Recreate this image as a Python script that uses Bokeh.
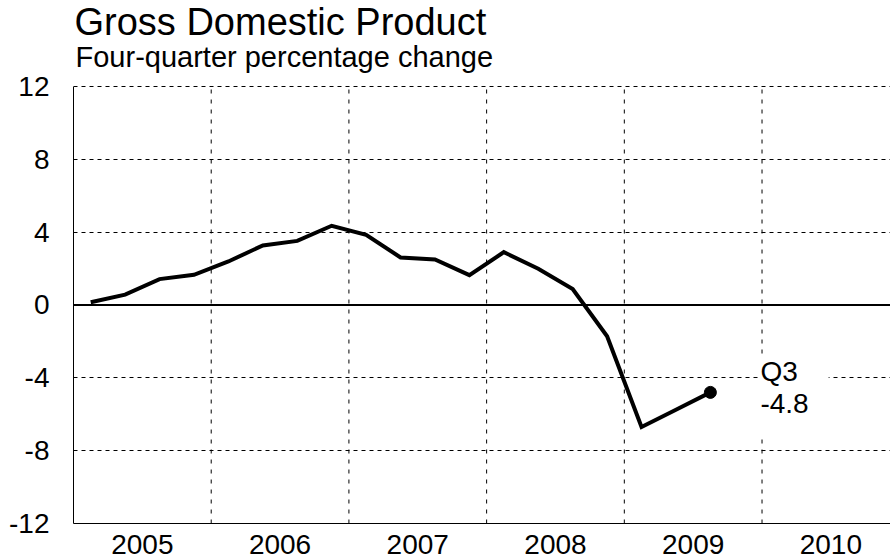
from bokeh.plotting import figure
from bokeh.models import (Range1d, FixedTicker, Span, Label, ColumnDataSource)
from bokeh.embed import file_html
from bokeh.resources import INLINE

# ---- data ----
quarters = ["2005Q1", "2005Q2", "2005Q3", "2005Q4",
            "2006Q1", "2006Q2", "2006Q3", "2006Q4",
            "2007Q1", "2007Q2", "2007Q3", "2007Q4",
            "2008Q1", "2008Q2", "2008Q3", "2008Q4",
            "2009Q1", "2009Q2", "2009Q3"]
gdp_change = [0.15, 0.57, 1.42, 1.66,
              2.39, 3.27, 3.52, 4.35,
              3.85, 2.61, 2.50, 1.64,
              2.90, 1.99, 0.88, -1.72,
              -6.70, -5.75, -4.8]
years = [2005, 2006, 2007, 2008, 2009, 2010]
y_ticks = [-12, -8, -4, 0, 4, 8, 12]
title_text = "Gross Domestic Product"
subtitle_text = "Four-quarter percentage change"
last_label = "Q3"

FONT = "Liberation Sans"
Y_HEADROOM = 4.72   # extra range above the top tick, room for the titles
X_END_PAD = 0.933   # visible part of the year after the last label

# quarter position: middle of each quarter
xs = [int(q[:4]) + (int(q[-1]) - 0.5) / 4 for q in quarters]
src = ColumnDataSource(dict(x=xs, y=gdp_change))

p = figure(width=890, height=560, output_backend="svg", toolbar_location=None,
           x_range=Range1d(years[0], years[-1] + X_END_PAD),
           y_range=Range1d(y_ticks[0], y_ticks[-1] + Y_HEADROOM),
           min_border_left=73, min_border_right=0, min_border_top=0,
           min_border_bottom=37)
p.outline_line_color = None
p.background_fill_color = "white"
p.border_fill_color = "white"
p.xgrid.visible = False

# axes
p.xaxis.ticker = FixedTicker(ticks=[y + 0.5 for y in years])
p.xaxis.major_label_overrides = {y + 0.5: str(y) for y in years}
p.yaxis.ticker = FixedTicker(ticks=y_ticks)
p.yaxis.major_label_overrides = {t: str(t) for t in y_ticks}
p.yaxis.bounds = (y_ticks[0], y_ticks[-1])
for ax in (p.xaxis[0], p.yaxis[0]):
    ax.major_tick_line_color = None
    ax.minor_tick_line_color = None
    ax.axis_line_color = "black"
    ax.axis_line_width = 1
    ax.major_label_text_font = FONT
    ax.major_label_text_color = "black"
    ax.major_label_text_font_size = "28px"
p.xaxis.major_label_standoff = 5
p.yaxis.major_label_standoff = 18

# horizontal grid
p.ygrid.ticker = FixedTicker(ticks=[t for t in y_ticks if t not in (0, y_ticks[0])])
p.ygrid.grid_line_color = "black"
p.ygrid.grid_line_dash = "4 4"
p.ygrid.grid_line_width = 1

# vertical year separators (only between -12 and 12)
seps = years[1:]
p.segment(x0=seps, y0=[y_ticks[0]] * len(seps), x1=seps, y1=[y_ticks[-1]] * len(seps),
          line_color="black", line_width=1, line_dash="4 6")

p.add_layout(Span(location=0, dimension="width", line_color="black", line_width=2))

p.line("x", "y", source=src, line_color="black", line_width=4, line_join="miter")
p.scatter([xs[-1]], [gdp_change[-1]], size=12, color="black")

p.add_layout(Label(x=xs[-1], y=gdp_change[-1], x_offset=50, y_offset=-3,
                   text=f"{last_label}\n{gdp_change[-1]}", text_font=FONT,
                   text_font_size="28px", text_color="black",
                   text_baseline="middle", text_line_height=1.04,
                   background_fill_color="white", padding=(0, 20, 0, 16)))

# titles (above the top gridline)
p.add_layout(Label(x=years[0], y=y_ticks[-1], x_offset=1, y_offset=64,
                   text=title_text, text_font=FONT, text_font_size="38px",
                   text_color="black", text_baseline="middle"))
p.add_layout(Label(x=years[0], y=y_ticks[-1], x_offset=2, y_offset=29,
                   text=subtitle_text, text_font=FONT, text_font_size="29px",
                   text_color="black", text_baseline="middle"))

open("out.html", "w").write(file_html(p, INLINE))
